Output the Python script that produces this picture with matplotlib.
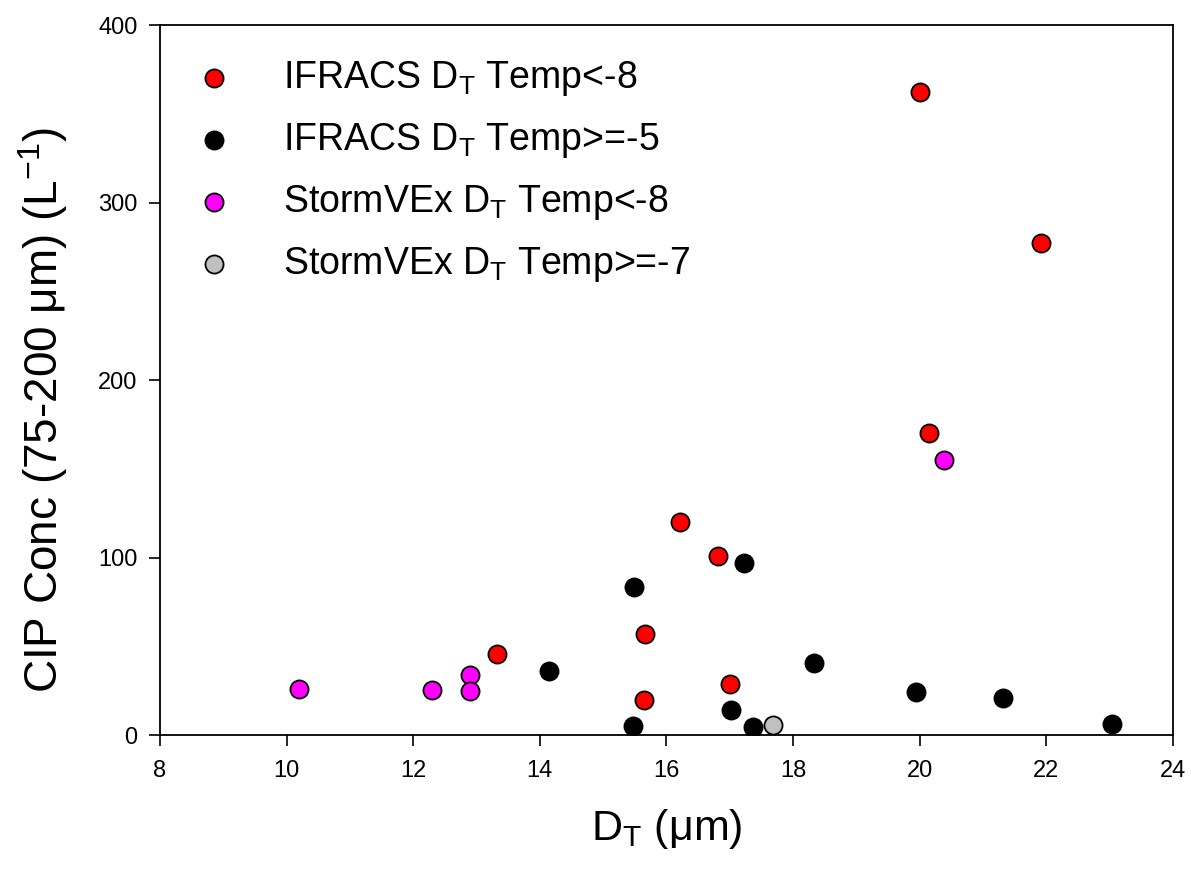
import numpy as np
import matplotlib
matplotlib.use('Agg')
import matplotlib.pyplot as plt

plt.rcParams['font.family'] = ['Liberation Sans', 'DejaVu Sans']
plt.rcParams['mathtext.fontset'] = 'custom'
plt.rcParams['mathtext.rm'] = 'Liberation Sans'
plt.rcParams['mathtext.it'] = 'Liberation Sans:italic'

# IFRACS, Temp < -8
ifr_cold_x = [13.33, 15.65, 15.66, 16.22, 16.81, 17.01, 20.01, 20.15, 21.91]
ifr_cold_y = [45.7, 19.7, 57.0, 120.0, 101.0, 29.0, 362.0, 170.0, 277.0]
# IFRACS, Temp >= -5
ifr_warm_x = [14.14, 15.47, 15.48, 17.02, 17.23, 17.37, 18.33, 19.94, 21.31, 23.03]
ifr_warm_y = [36.3, 4.8, 83.6, 14.1, 96.8, 4.7, 40.6, 24.2, 20.9, 6.2]
# StormVEx, Temp < -8
svx_cold_x = [10.19, 12.30, 12.90, 12.90, 20.39]
svx_cold_y = [25.7, 25.4, 33.8, 25.0, 155.0]
# StormVEx, Temp >= -7
svx_warm_x = [17.69]
svx_warm_y = [5.6]

fig = plt.figure(figsize=(11.91, 8.75), dpi=100)
ax = fig.add_axes([0.1343, 0.16, 0.8506, 0.8114])

ms = 170
ax.scatter(ifr_cold_x, ifr_cold_y, s=ms, c='#ff0000', edgecolors='black', linewidths=1.3,
           label=r'IFRACS D$_\mathrm{T}$ Temp<-8', zorder=3)
ax.scatter(ifr_warm_x, ifr_warm_y, s=ms, c='black', edgecolors='black', linewidths=1.3,
           label=r'IFRACS D$_\mathrm{T}$ Temp>=-5', zorder=3)
ax.scatter(svx_cold_x, svx_cold_y, s=ms, c='#ff00ff', edgecolors='black', linewidths=1.3,
           label=r'StormVEx D$_\mathrm{T}$ Temp<-8', zorder=3)
ax.scatter(svx_warm_x, svx_warm_y, s=ms, c='#c0c0c0', edgecolors='black', linewidths=1.3,
           label=r'StormVEx D$_\mathrm{T}$ Temp>=-7', zorder=3)

ax.set_xlim(8, 24)
ax.set_ylim(0, 400)
ax.set_xticks(np.arange(8, 25, 2))
ax.set_yticks(np.arange(0, 401, 100))
ax.tick_params(direction='out', length=8, width=1.2, labelsize=17)
ax.tick_params(axis='x', pad=10)
ax.tick_params(axis='y', pad=8)
for sp in ax.spines.values():
    sp.set_linewidth(1.3)

ax.set_xlabel(r'D$_\mathrm{T}$ (μm)', fontsize=31, labelpad=18)
ax.set_ylabel('CIP Conc (75-200 μm) (L$^{\\mathrm{-1}}$)', fontsize=33)
ax.yaxis.set_label_coords(-0.089, 0.458)

ax.legend(loc='upper left', bbox_to_anchor=(-0.013, 0.995), frameon=False, fontsize=27,
          labelspacing=0.62, handletextpad=0.83, borderpad=0.3, scatterpoints=1)

plt.savefig('out.png', dpi=100)
